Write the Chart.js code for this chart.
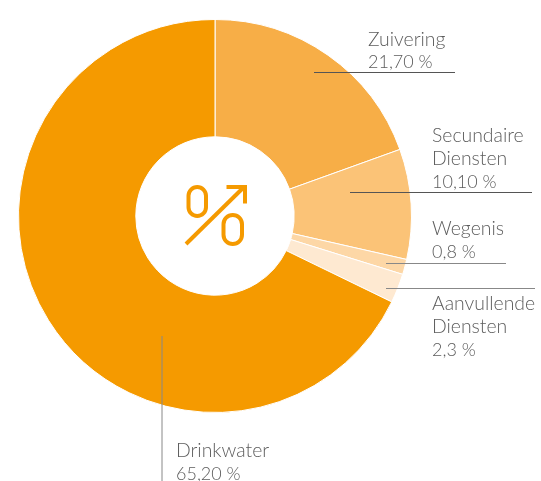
<!DOCTYPE html>
<html><head><meta charset="utf-8">
<script src="https://cdn.jsdelivr.net/npm/chart.js@4"></script>
<style>html,body{margin:0;padding:0;background:#fff}canvas{display:block}</style>
</head><body><canvas id="c" width="541" height="481"></canvas>
<script>
const categories = ["Zuivering","Secundaire Diensten","Wegenis","Aanvullende Diensten","Drinkwater"];
// Slice sizes as drawn in the picture (they differ slightly from the printed labels)
const sliceShares = [19.5, 9.05, 1.25, 2.4, 67.8];
const printedValues = ["21,70 %","10,10 %","0,8 %","2,3 %","65,20 %"];
const sliceColors = ["#F7AE47","#FBC377","#FDD7A6","#FEE9D1","#F59A00"];
const labelLines = [["Zuivering"],["Secundaire","Diensten"],["Wegenis"],["Aanvullende","Diensten"],["Drinkwater"]];
const labelAnchors = [[368,45.5],[432,142],[432,235],[432,310],[176,456.7]];
const leaders = [[314,72.5,455,72.5,"#555"],[350,192.5,532,192.5,"#555"],[386,263.5,506,263.5,"#888"],[386,288.5,535,288.5,"#888"],[162,336,162,481,"#888"]];
const lineStep = 22.8;

const overlay = {
  id:"overlay",
  afterDraw(ch){
    const g = ch.ctx; g.save();
    leaders.forEach(([a,b,c,d,col])=>{g.strokeStyle=col;g.lineWidth=1;g.beginPath();g.moveTo(a,b);g.lineTo(c,d);g.stroke();});
    g.fillStyle = "#5c5c5c"; g.textAlign="left"; g.textBaseline="alphabetic";
    labelLines.forEach((lines,i)=>{
      const [x,y]=labelAnchors[i];
      g.font = '300 19.4px "Lato","Open Sans",sans-serif';
      lines.forEach((t,k)=>g.fillText(t,x,y+k*lineStep));
      g.font = '300 18px "Lato","Open Sans",sans-serif';
      g.fillText(printedValues[i],x,y+lines.length*lineStep);
    });
    // centre icon
    g.strokeStyle="#F59A00"; g.lineWidth=4; g.lineCap="butt"; g.lineJoin="miter";
    const pill=(x,y,w,h)=>{g.beginPath();g.roundRect(x,y,w,h,w/2);g.stroke();};
    pill(188.5,187,17.5,29); pill(223.5,215,18.5,29);
    g.beginPath();g.moveTo(186,244);g.lineTo(243,188);g.stroke();
    g.beginPath();g.moveTo(226.5,187);g.lineTo(245,187);g.lineTo(245,203.5);g.stroke();
    g.restore();
  }
};
new Chart(document.getElementById("c"),{
  type:"doughnut",
  data:{labels:categories,datasets:[{data:sliceShares,backgroundColor:sliceColors,borderColor:"#fff",borderWidth:1,hoverOffset:0}]},
  options:{
    responsive:false,animation:false,cutout:"40.3%",
    layout:{padding:{left:18,top:19,right:129,bottom:68}},
    plugins:{legend:{display:false},tooltip:{enabled:false}}
  },
  plugins:[overlay]
});
</script></body></html>
